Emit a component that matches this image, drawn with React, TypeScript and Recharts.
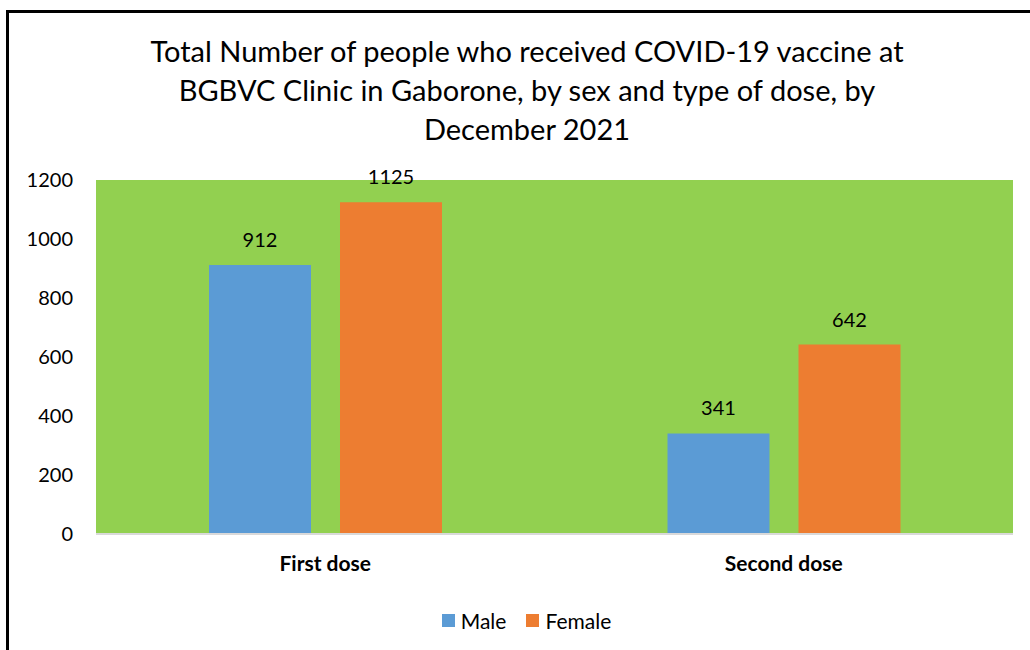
import React from 'react';
import { BarChart, Bar, XAxis, YAxis, CartesianGrid, Legend, LabelList } from 'recharts';

const doses = ['First dose', 'Second dose'];
const male = [912, 341];
const female = [1125, 642];
const yTicks = [0, 200, 400, 600, 800, 1000, 1200];

const titleLines = [
  'Total Number of people who received COVID-19 vaccine at',
  'BGBVC Clinic in Gaborone, by sex and type of dose, by',
  'December 2021',
];

const FONT = 'Lato, "Open Sans", sans-serif';

const data = doses.map((d, i) => ({ dose: d, Male: male[i], Female: female[i] }));

const renderLegend = () => (
  <div style={{ display: 'flex', justifyContent: 'center', paddingLeft: 40, fontFamily: FONT, fontSize: 21, color: '#000' }}>
    {[
      { name: 'Male', color: '#5B9BD5' },
      { name: 'Female', color: '#ED7D31' },
    ].map((it) => (
      <div key={it.name} style={{ display: 'flex', alignItems: 'center', margin: '0 10px' }}>
        <span style={{ width: 13, height: 13, background: it.color, display: 'inline-block', marginRight: 6 }} />
        <span>{it.name}</span>
      </div>
    ))}
  </div>
);

export default function App() {
  return (
    <div style={{ position: 'absolute', left: 0, top: 0, width: 1030, height: 650, background: '#fff', overflow: 'hidden' }}>
      <div
        style={{
          position: 'absolute',
          left: 6,
          top: 10,
          width: 1040,
          height: 660,
          borderLeft: '3px solid #000',
          borderTop: '3px solid #000',
        }}
      />
      <div
        style={{
          position: 'absolute',
          left: 10,
          top: 31,
          width: 1034,
          textAlign: 'center',
          fontFamily: FONT,
          fontSize: 29,
          lineHeight: '39px',
          color: '#000',
        }}
      >
        {titleLines.map((l) => (
          <div key={l}>{l}</div>
        ))}
      </div>
      <div style={{ position: 'absolute', left: 0, top: 0 }}>
        <BarChart
          width={1030}
          height={650}
          data={data}
          margin={{ top: 180, right: 17, left: 0, bottom: 6 }}
          barSize={102}
          barGap={29}
        >
          <CartesianGrid fill="#92D050" horizontal={false} vertical={false} stroke="none" />
          <XAxis
            dataKey="dose"
            height={74}
            tickSize={0}
            tickMargin={22}
            axisLine={{ stroke: '#D9D9D9', strokeWidth: 2 }}
            tickLine={false}
            tick={{ fontFamily: FONT, fontSize: 21, fontWeight: 700, fill: '#000' }}
          />
          <YAxis
            width={96}
            domain={[0, 1200]}
            ticks={yTicks}
            tickSize={0}
            tickMargin={23}
            axisLine={false}
            tickLine={false}
            tick={{ fontFamily: FONT, fontSize: 20, fill: '#000' }}
          />
          <Legend verticalAlign="bottom" height={36} content={renderLegend} />
          <Bar dataKey="Male" fill="#5B9BD5" isAnimationActive={false}>
            <LabelList dataKey="Male" position="top" offset={18} style={{ fontFamily: FONT, fontSize: 20, fill: '#000' }} />
          </Bar>
          <Bar dataKey="Female" fill="#ED7D31" isAnimationActive={false}>
            <LabelList dataKey="Female" position="top" offset={18} style={{ fontFamily: FONT, fontSize: 20, fill: '#000' }} />
          </Bar>
        </BarChart>
      </div>
    </div>
  );
}
